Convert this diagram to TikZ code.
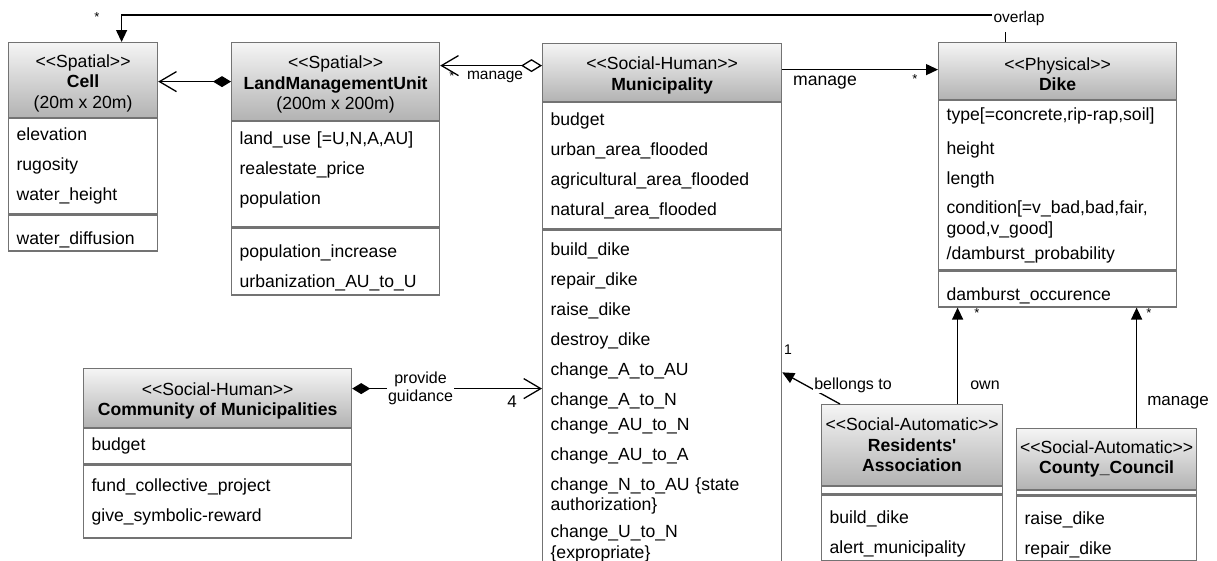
\documentclass[tikz,border=0pt]{standalone}
\usepackage{fontspec}
\setmainfont{Liberation Sans}
\usetikzlibrary{arrows.meta,positioning}

\newcommand{\stereo}[1]{<\kern0pt<#1>\kern0pt>}

\tikzset{
  classhead/.style={draw=black!55, line width=1.2pt, top color=black!4, bottom color=black!30,
    anchor=north west, align=center, inner sep=0pt, font=\fontsize{17.6}{20.5}\selectfont},
  headtext/.style={align=center, font=\fontsize{17.6}{20.5}\selectfont},
  compart/.style={draw=black!55, line width=1.2pt, fill=white, anchor=north west, align=left,
    inner xsep=8pt, inner ysep=0pt, font=\fontsize{17.6}{20.5}\selectfont},
  meth/.style={compart, execute at begin node=\rule{0pt}{25.5pt}},
  lbl/.style={font=\fontsize{16}{18}\selectfont, inner sep=1pt},
  mult/.style={font=\fontsize{13}{14}\selectfont, inner sep=0pt},
  conn/.style={draw=black, line width=1.3pt},
  compo/.style={conn, {Diamond[length=18pt,width=11pt]}-{Straight Barb[length=17pt,width=20pt]}},
  aggr/.style={conn, {Diamond[open,length=21pt,width=13pt,fill=white]}-{Straight Barb[length=17pt,width=20pt]}},
  assoc/.style={conn, -{Triangle[length=12pt,width=11pt]}}
}

\begin{document}
\begin{tikzpicture}[x=1pt,y=-1pt]
\useasboundingbox (0,0) rectangle (1217,560);

% spatial classes
\node[classhead, minimum width=149pt, minimum height=75pt] (cellH) at (8,42) {};
\node[headtext] (cellT) at ([yshift=-3pt]cellH.center) {\stereo{Spatial}\\\textbf{Cell}\\(20m x 20m)};
\node[compart, text width=133pt, minimum height=95pt] (cellA) at (cellH.south west) {elevation\\[9.5pt]rugosity\\[9.5pt]water\_height};
\node[meth, text width=133pt, minimum height=36pt] (cellM) at (cellA.south west) {water\_diffusion};

\node[classhead, minimum width=208pt, minimum height=78pt] (lmuH) at (231,42) {};
\node[headtext] (lmuT) at ([yshift=-3pt]lmuH.center) {\stereo{Spatial}\\\textbf{LandManagementUnit}\\(200m x 200m)};
\node[compart, text width=192pt, minimum height=105pt] (lmuA) at (lmuH.south west) {land\_use [=U,N,A,AU]\\[9.5pt]realestate\_price\\[9.5pt]population\rule[-12pt]{0pt}{12pt}};
\node[meth, text width=192pt, minimum height=67pt] (lmuM) at (lmuA.south west) {population\_increase\\[9.5pt]urbanization\_AU\_to\_U};

% social classes
\node[classhead, minimum width=239pt, minimum height=58pt] (muniH) at (542,43) {};
\node[headtext] (muniT) at ([yshift=-3pt]muniH.center) {\stereo{Social-Human}\\\textbf{Municipality}};
\node[compart, text width=223pt, minimum height=126pt] (muniA) at (muniH.south west) {budget\\[9.5pt]urban\_area\_flooded\\[9.5pt]agricultural\_area\_flooded\\[9.5pt]natural\_area\_flooded};
\node[meth, text width=223pt, minimum height=331pt] (muniM) at (muniA.south west) {build\_dike\\[9.5pt]repair\_dike\\[9.5pt]raise\_dike\\[9.5pt]destroy\_dike\\[9.5pt]change\_A\_to\_AU\\[9.5pt]change\_A\_to\_N\\[4.5pt]change\_AU\_to\_N\\[9pt]change\_AU\_to\_A\\[9.5pt]change\_N\_to\_AU \{state\\authorization\}\\[6.5pt]change\_U\_to\_N\\\{expropriate\}};

\node[classhead, minimum width=268pt, minimum height=59pt] (comH) at (83,368) {};
\node[headtext] (comT) at ([yshift=-3pt]comH.center) {\stereo{Social-Human}\\\textbf{Community of Municipalities}};
\node[compart, text width=252pt, minimum height=35pt] (comA) at (comH.south west) {budget};
\node[compart, text width=252pt, minimum height=73pt] (comM) at (comA.south west) {fund\_collective\_project\\[9.5pt]give\_symbolic-reward};

\node[classhead, minimum width=181pt, minimum height=81pt] (resH) at (821,404) {\stereo{Social-Automatic}\\\textbf{Residents\textquotesingle}\\\textbf{Association}};
\node[compart, text width=165pt, minimum height=7pt] (resA) at (resH.south west) {};
\node[meth, text width=165pt, minimum height=66pt] (resM) at (resA.south west) {build\_dike\\[9.5pt]alert\_municipality};

\node[classhead, minimum width=180pt, minimum height=61pt] (ccH) at (1016,428) {\stereo{Social-Automatic}\\\textbf{County\_Council}};
\node[compart, text width=164pt, minimum height=4pt] (ccA) at (ccH.south west) {};
\node[meth, text width=164pt, minimum height=65pt] (ccM) at (ccA.south west) {raise\_dike\\[9.5pt]repair\_dike};

% physical class
\node[classhead, minimum width=238pt, minimum height=57pt] (dikeH) at (938,42) {};
\node[headtext] (dikeT) at ([yshift=-3pt]dikeH.center) {\stereo{Physical}\\\textbf{Dike}};
\node[compart, text width=222pt, minimum height=169pt] (dikeA) at (dikeH.south west) {type[=concrete,rip-rap,soil]\\[13pt]height\\[9.5pt]length\\[9pt]condition[=v\_bad,bad,fair,\\good,v\_good]\\[4.5pt]/damburst\_probability};
\node[meth, text width=222pt, minimum height=36pt] (dikeM) at (dikeA.south west) {damburst\_occurence};

% relations
\draw[compo] (lmuH.west) -- (lmuH.west -| cellH.east);
\draw[aggr] ([yshift=7pt]muniH.west) -- ([yshift=7pt]muniH.west -| lmuH.east);
\node[lbl, font=\fontsize{15.5}{17}\selectfont] (mngA) at (495,77) {manage};
\node[mult] (stA) at (452,76) {*};

\draw[assoc] ([yshift=3pt]muniH.east) -- ([yshift=3pt]muniH.east -| dikeH.west);
\node[lbl, font=\fontsize{17.6}{20}\selectfont] (mngB) at (825,83) {manage};
\node[mult] (stB) at (915,79) {*};

\node[lbl, font=\fontsize{15.5}{17}\selectfont] (ovl) at (1019,18) {overlap};
\draw[conn] ([xshift=-52pt]dikeH.north) -- ++(0,-10);
\draw[assoc] ([yshift=3pt]ovl.west) -| ([xshift=38.5pt]cellH.north);
\node[mult] (stC) at (97,17) {*};

\draw[compo] ([yshift=9.5pt]comH.east) coordinate (pg) -- node[lbl, fill=white, align=center, pos=0.36] (pgl) {provide\\guidance} (pg -| muniM.west);
\node[lbl, font=\fontsize{17}{19}\selectfont] (nfour) at (512,402) {4};

\draw[assoc] ([xshift=19pt]resH.north west) -- ([yshift=23.5pt]muniM.east);
\node[lbl, fill=white] (blg) at (853,385) {bellongs to};
\node[lbl, font=\fontsize{14}{16}\selectfont] (none) at (788,350) {1};

\draw[assoc] ([xshift=45.5pt]resH.north) -- ([xshift=45.5pt]resH.north |- dikeM.south);
\node[lbl] (own) at (985,385) {own};
\node[mult] (stD) at (977,313) {*};

\draw[assoc] ([xshift=30pt]ccH.north) -- ([xshift=30pt]ccH.north |- dikeM.south);
\node[lbl, font=\fontsize{17}{19}\selectfont] (mngC) at (1178,403) {manage};
\node[mult] (stE) at (1149,313) {*};
\end{tikzpicture}
\end{document}
